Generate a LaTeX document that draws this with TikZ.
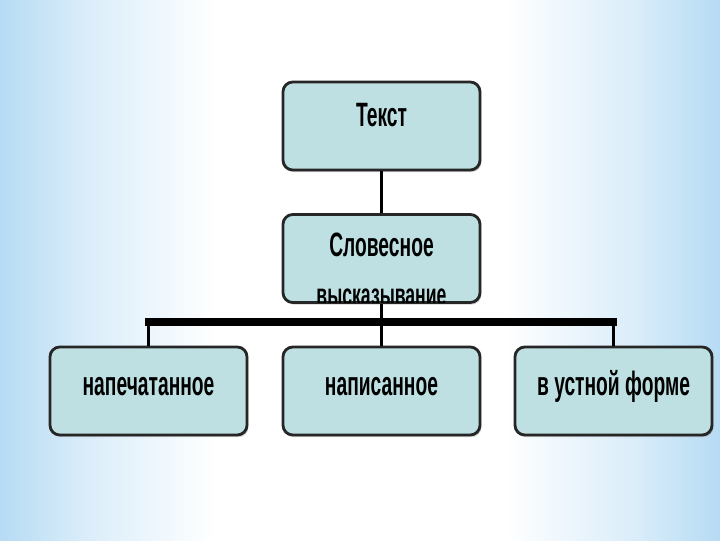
\documentclass[tikz,border=0pt]{standalone}
\usepackage{fontspec}
\setmainfont{Liberation Sans}
\newfontfamily\boxfont[FakeStretch=0.57]{Liberation Sans Bold}
\usetikzlibrary{shadows}
\definecolor{boxfill}{HTML}{BFE0E2}
\definecolor{boxline}{HTML}{262626}
\definecolor{sidecol}{HTML}{B6DBF4}
\pgfdeclarehorizontalshading{slidebg}{100bp}{color(0bp)=(sidecol); color(25bp)=(sidecol); color(31bp)=(sidecol!50); color(40bp)=(white); color(60bp)=(white); color(69bp)=(sidecol!50); color(75bp)=(sidecol); color(100bp)=(sidecol)}
\tikzset{
  box/.style={draw=boxline, line width=2pt, fill=boxfill, rounded corners=7pt,
    minimum width=4.925cm, minimum height=2.2cm, inner sep=0pt,
    font=\boxfont\fontsize{24}{26}\selectfont, text height=17pt,
    drop shadow={opacity=0.35, shadow xshift=1pt, shadow yshift=-1.5pt}},
  link/.style={line width=2.8pt, black},
  bar/.style={line width=5.5pt, black}
}
\begin{document}
\begin{tikzpicture}[x=0.025cm,y=-0.025cm]
                % Background of the slide
                \shade [shading=slidebg] (0,0) rectangle (720,540);%
                \useasboundingbox (0,0) rectangle (720,540);%
                
                % Top box
                \node [box, text depth=17pt] (tekst) at (381.5,126) {Текст};%
                
                % Middle box, its second line is cut by the border
                \node [box, text depth=20pt] (slovo) at (381.5,258.5) {Словесное};%
                \begin{scope}
                \clip ([shift={(1pt,1pt)}]slovo.south west) rectangle ([shift={(-1pt,-1pt)}]slovo.north east);%
                \node [font=\boxfont\fontsize{22}{24}\selectfont, anchor=north, inner sep=0pt] (slovotail) at (381.5,289) {высказывание};%
                \end{scope}
                
                % Bottom boxes
                \node [box, text depth=10pt] (pechat) at (148.5,391) {напечатанное};%
                \node [box, text depth=10pt] (pisan) at (381.5,391) {написанное};%
                \node [box, text depth=10pt] (ustno) at (613.5,391) {в устной форме};%
                
                % Points of the bar
                \coordinate (barleft) at (148.5,322);%
                \coordinate (barmid) at (381.5,322);%
                \coordinate (barright) at (613.5,322);%
                
                % Drawing connectors
                \draw [link] (tekst) -- (slovo);%
                \draw [link] (slovo) -- (barmid);%
                \draw [bar, line cap=rect, drop shadow={opacity=0.3, shadow xshift=0pt, shadow yshift=-1.5pt}] (barleft) -- (barright);%
                \draw [link] (barleft) -- (pechat);%
                \draw [link] (barmid) -- (pisan);%
                \draw [link] (barright) -- (ustno);%
\end{tikzpicture}
\end{document}
